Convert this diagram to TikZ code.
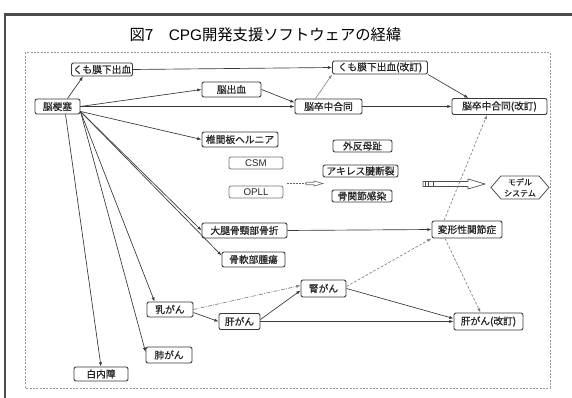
\documentclass[tikz,border=0pt]{standalone}
\usepackage{fontspec}
\setmainfont{Noto Sans CJK JP}
\newfontfamily\boxfont{Noto Sans CJK JP}[FakeBold=0.7]
\newfontfamily\latinsf{Liberation Sans}
\usetikzlibrary{arrows.meta,calc}
\begin{document}
\begin{tikzpicture}[x=0.75pt,y=-0.75pt,
  wh/.style 2 args={minimum width={#1*0.75pt},minimum height={#2*0.75pt}},
  box/.style={draw=black!78,line width=0.65pt,rounded corners=1.5pt,fill=white,inner sep=0pt,
    font=\boxfont\fontsize{7.3}{8}\selectfont,text=black!85},
  lbox/.style={box,draw=black!55,line width=0.55pt},
  edge/.style={draw=black!78,line width=0.5pt,-{Latex[length=3.2pt,width=2.4pt]}},
  gedge/.style={edge,draw=black!45},
  dedge/.style={edge,draw=black!50,dash pattern=on 2pt off 1.3pt},
  ddedge/.style={edge,draw=black!50,dash pattern=on 3pt off 1pt on 0.6pt off 1pt},
  hollow/.style={draw=black!70,line width=0.5pt,fill=white}
]
\useasboundingbox (0,0) rectangle (572,398);
% frames
\draw[line width=1.6pt,black!70] (5,398) -- (5,14.5) -- (572,14.5);
\draw[black!40,line width=0.4pt,dash pattern=on 1.5pt off 1pt] (25,52.5) rectangle (550,388);
% title
\node (title) at (265.5,35) {\fontsize{11.5}{13}\selectfont 図7\hspace{1em}{\latinsf CPG}開発支援ソフトウェアの経緯};
% nodes
\node[box,wh={61}{13}] (kumo)  at (102,69.5)   {くも膜下出血};
\node[box,wh={95}{13}] (kumoR) at (380,67.5)   {くも膜下出血(改訂)};
\node[box,wh={45}{15}] (nk)    at (57.5,106.5) {脳梗塞};
\node[box,wh={59}{15}] (nsk)   at (231.5,89.5) {脳出血};
\node[box,wh={67}{15}] (ngo)   at (328.5,106.5){脳卒中合同};
\node[box,wh={95}{16}] (ngoR)  at (499.5,106.5){脳卒中合同(改訂)};
\node[box,wh={76}{15}] (her)   at (240,139.5)  {椎間板ヘルニア};
\node[lbox,wh={54}{12},font=\latinsf\fontsize{7.3}{8}\selectfont] (csm)  at (256,163) {CSM};
\node[lbox,wh={54}{12},font=\latinsf\fontsize{7.3}{8}\selectfont] (opll) at (256,192) {OPLL};
\node[box,wh={59}{12}] (gaih)  at (362.5,146)  {外反母趾};
\node[box,wh={75}{12}] (akil)  at (360.5,171)  {アキレス腱断裂};
\node[box,wh={60}{12}] (kks)   at (362,196)    {骨関節感染};
\node[box,wh={85}{15}] (dai)   at (244.5,230.5){大腿骨頸部骨折};
\node[box,wh={63}{15}] (kot)   at (253.5,259.5){骨軟部腫瘍};
\node[box,wh={70}{17}] (hen)   at (467,229.5)  {変形性関節症};
\node[box,wh={46}{15}] (nyu)   at (170,309.5)  {乳がん};
\node[box,wh={41}{16}] (kan)   at (239.5,321.5){肝がん};
\node[box,wh={46}{16}] (hai)   at (169,355)    {肺がん};
\node[box,wh={54}{14}] (hak)   at (101,374)    {白内障};
\node[box,wh={45}{17}] (jin)   at (323.5,288.5){腎がん};
\node[box,wh={69}{17}] (kanR)  at (488.5,321.5){肝がん(改訂)};
% hexagon
\node[inner sep=0pt,align=center,font=\boxfont\fontsize{6}{8.3}\selectfont,text=black!85] (model) at (520,187.5) {モデル\\システム};
\draw[black!70,line width=0.6pt] ($(model)+(-29,0)$) -- ($(model)+(-19,-11.5)$) -- ($(model)+(19,-11.5)$)
  -- ($(model)+(29,0)$) -- ($(model)+(19,11.5)$) -- ($(model)+(-19,11.5)$) -- cycle;
% hollow arrows
\draw[hollow] (423,181.5) -- (468,181.5) -- (468,179) -- (485,184) -- (468,189) -- (468,186.5) -- (423,186.5) -- cycle;
\foreach \i in {425,428,433}{\draw[black!70,line width=0.7pt] (\i,181.5) -- (\i,186.5);}
\draw[black!60,line width=0.8pt,dash pattern=on 1.5pt off 0.8pt] (287,183.5) -- (306,183.5);
\draw[hollow,draw=black!55] (306,182.3) -- (314,182.3) -- (314,181) -- (323,183.5) -- (314,186) -- (314,184.7) -- (306,184.7) -- cycle;
% edges from 脳梗塞
\coordinate (fan) at ($(nk.south east)+(0,-3)$);
\draw[edge] ($(nk.north)+(10,0)$) -- ($(kumo.south)+(-19,0)$);
\draw[edge] (nk.east) -- (nsk.west);
\draw[edge] (nk.east) -- (ngo.west);
\draw[edge] (fan) -- (her.west);
\draw[edge] (fan) -- (dai.west);
\draw[edge] (fan) -- ($(kot.west)+(0,-4)$);
\draw[edge] (fan) -- ($(nyu.north west)+(8,0)$);
\draw[edge] (fan) -- ($(hai.west)+(0,-3)$);
\draw[edge] ($(nk.south)+(8,0)$) -- (hak.north);
% other edges
\draw[edge] (kumo.east) -- (kumoR.west);
\draw[edge] (nsk.east) -- ($(ngo.west)+(0,-4)$);
\draw[gedge] ($(ngo.north)+(-13,0)$) -- (kumoR.south west);
\draw[edge] (ngo.east) -- (ngoR.west);
\draw[edge] (kumoR.south east) -- ($(ngoR.north)+(-31,0)$);
\draw[edge] (dai.east) -- (hen.west);
\draw[ddedge] (nyu.east) -- ($(jin.west)+(0,-3)$);
\draw[edge] ($(nyu.east)+(0,3)$) -- (kan.west);
\draw[edge] ($(kan.east)+(0,-2)$) -- ($(jin.west)+(0,2)$);
\draw[edge] (kan.east) -- (kanR.west);
\draw[edge] (jin.east) -- ($(kanR.west)+(0,-3)$);
\draw[dedge] ($(jin.east)+(0,-2)$) -- (hen.south west);
\draw[dedge] ($(hen.north)+(-23,0)$) -- ($(ngoR.south)+(-12.5,0)$);
\draw[dedge] ($(hen.south)+(-22,0)$) -- ($(kanR.north)+(-8,0)$);
\end{tikzpicture}
\end{document}
